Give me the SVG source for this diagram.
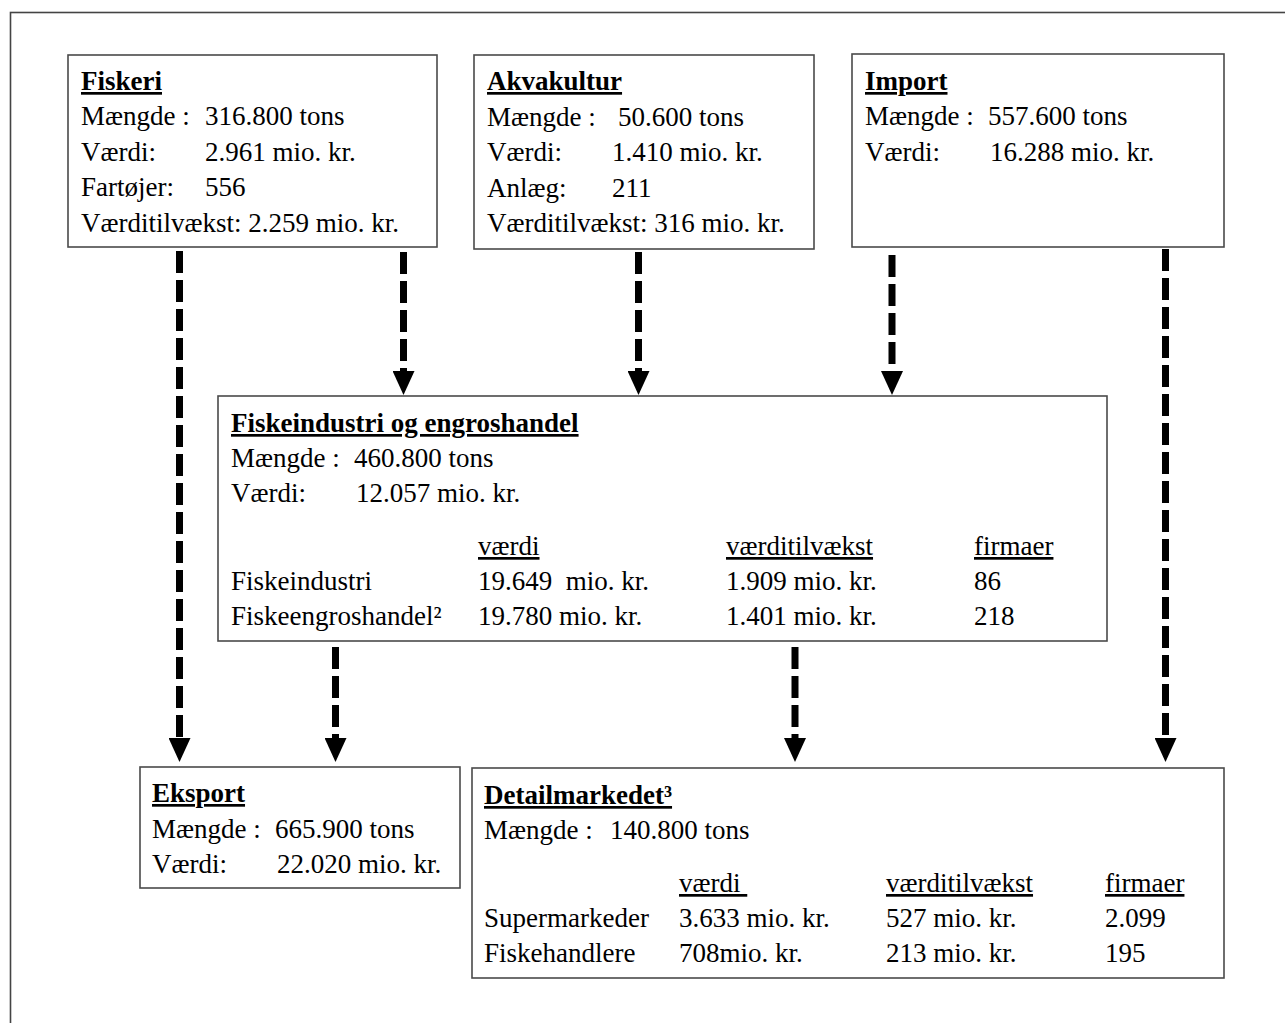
<svg xmlns="http://www.w3.org/2000/svg" width="1285" height="1023" viewBox="0 0 1285 1023" xml:space="preserve">
<defs>
<style>
.box{fill:#fff;stroke:#4a4a4a;stroke-width:1.6}
.frame{fill:none;stroke:#444;stroke-width:1.6}
text{font-family:"Liberation Serif","Times New Roman",serif;font-size:27px;fill:#000;white-space:pre}
.t{font-weight:bold;text-decoration:underline}
.u{text-decoration:underline}
.arr{stroke:#000;stroke-width:7;stroke-dasharray:22 7;fill:none;marker-end:url(#ah)}
</style>
<marker id="ah" markerUnits="userSpaceOnUse" viewBox="0 0 24 22" markerWidth="24" markerHeight="22" refX="1" refY="11" orient="auto">
<path d="M0,0 L24,11 L0,22 Z" fill="#000"/>
</marker>
</defs>
<rect width="1285" height="1023" fill="#fff"/>
<rect class="frame" x="10.5" y="12.5" width="1300" height="1050"/>

<g id="connectors">
<line class="arr" x1="179.5" y1="251" x2="179.5" y2="739"/>
<line class="arr" x1="403.5" y1="252" x2="403.5" y2="372"/>
<line class="arr" x1="638.5" y1="252" x2="638.5" y2="372"/>
<line class="arr" x1="892" y1="255" x2="892" y2="372"/>
<line class="arr" x1="1165.5" y1="249" x2="1165.5" y2="739"/>
<line class="arr" x1="335.5" y1="647" x2="335.5" y2="739"/>
<line class="arr" x1="795" y1="647" x2="795" y2="739"/>
</g>

<g id="fiskeri">
<rect class="box" x="68" y="55" width="369" height="192"/>
<text class="t" x="81" y="90">Fiskeri</text>
<text x="81" y="125">Mængde :</text><text x="205" y="125">316.800 tons</text>
<text x="81" y="161">Værdi:</text><text x="205" y="161">2.961 mio. kr.</text>
<text x="81" y="196">Fartøjer:</text><text x="205" y="196">556</text>
<text x="81" y="232">Værditilvækst: 2.259 mio. kr.</text>
</g>

<g id="akvakultur">
<rect class="box" x="474" y="55" width="340" height="194"/>
<text class="t" x="487" y="90">Akvakultur</text>
<text x="487" y="126">Mængde :</text><text x="618" y="126">50.600 tons</text>
<text x="487" y="161">Værdi:</text><text x="612" y="161">1.410 mio. kr.</text>
<text x="487" y="197">Anlæg:</text><text x="612" y="197">211</text>
<text x="487" y="232">Værditilvækst: 316 mio. kr.</text>
</g>

<g id="import">
<rect class="box" x="852" y="54" width="372" height="193"/>
<text class="t" x="865" y="90">Import</text>
<text x="865" y="125">Mængde :</text><text x="988" y="125">557.600 tons</text>
<text x="865" y="161">Værdi:</text><text x="990" y="161">16.288 mio. kr.</text>
</g>

<g id="fiskeindustri">
<rect class="box" x="218" y="396" width="889" height="245"/>
<text class="t" x="231" y="432">Fiskeindustri og engroshandel</text>
<text x="231" y="467">Mængde :</text><text x="354" y="467">460.800 tons</text>
<text x="231" y="502">Værdi:</text><text x="356" y="502">12.057 mio. kr.</text>
<text class="u" x="478" y="555">værdi</text>
<text class="u" x="726" y="555">værditilvækst</text>
<text class="u" x="974" y="555">firmaer</text>
<text x="231" y="590">Fiskeindustri</text><text x="478" y="590">19.649  mio. kr.</text><text x="726" y="590">1.909 mio. kr.</text><text x="974" y="590">86</text>
<text x="231" y="625">Fiskeengroshandel²</text><text x="478" y="625">19.780 mio. kr.</text><text x="726" y="625">1.401 mio. kr.</text><text x="974" y="625">218</text>
</g>

<g id="eksport">
<rect class="box" x="140" y="767" width="320" height="121"/>
<text class="t" x="152" y="802">Eksport</text>
<text x="152" y="838">Mængde :</text><text x="275" y="838">665.900 tons</text>
<text x="152" y="873">Værdi:</text><text x="277" y="873">22.020 mio. kr.</text>
</g>

<g id="detailmarkedet">
<rect class="box" x="472" y="768" width="752" height="210"/>
<text class="t" x="484" y="804">Detailmarkedet³</text>
<text x="484" y="839">Mængde :</text><text x="610" y="839">140.800 tons</text>
<text class="u" x="679" y="892">værdi </text>
<text class="u" x="886" y="892">værditilvækst</text>
<text class="u" x="1105" y="892">firmaer</text>
<text x="484" y="927">Supermarkeder</text><text x="679" y="927">3.633 mio. kr.</text><text x="886" y="927">527 mio. kr.</text><text x="1105" y="927">2.099</text>
<text x="484" y="962">Fiskehandlere</text><text x="679" y="962">708mio. kr.</text><text x="886" y="962">213 mio. kr.</text><text x="1105" y="962">195</text>
</g>
</svg>
